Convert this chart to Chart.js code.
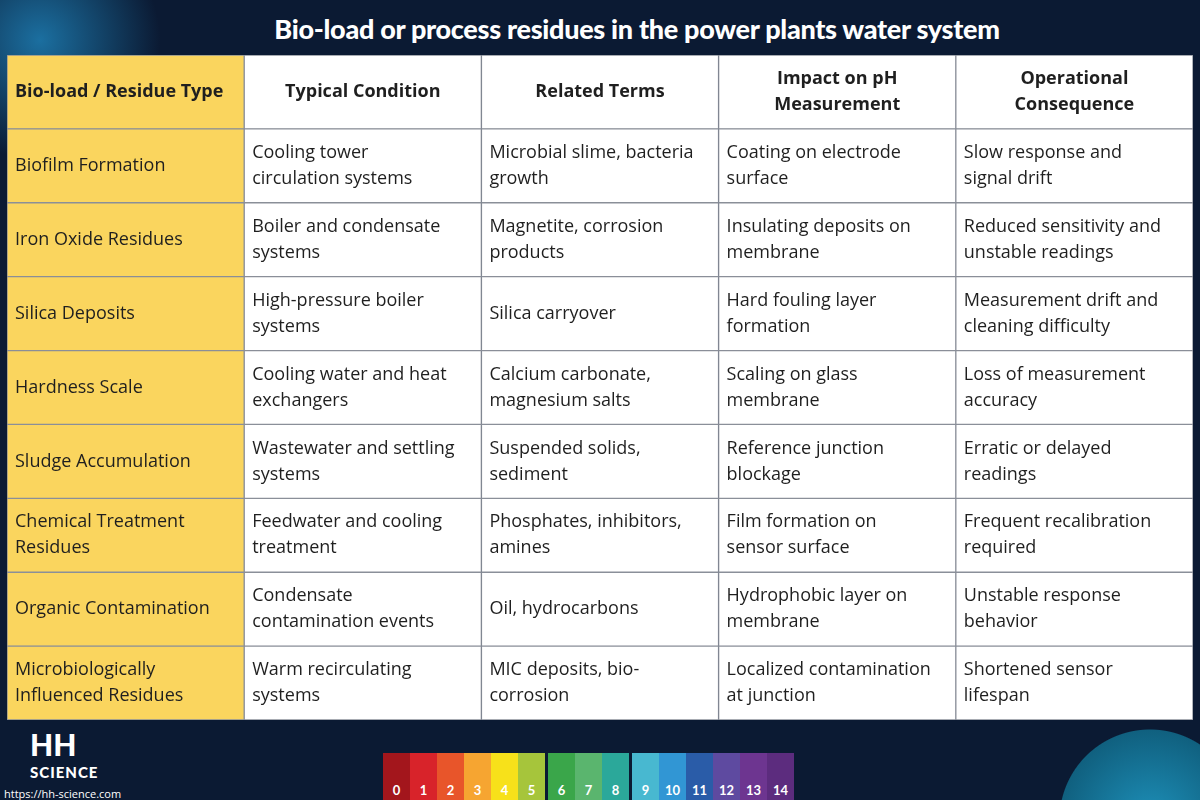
<!DOCTYPE html>
<html><head><meta charset="utf-8">
<script src="https://cdn.jsdelivr.net/npm/chart.js@4"></script>
<style>
body{margin:0;width:1200px;height:800px;overflow:hidden;font-family:"Open Sans",sans-serif;
background:radial-gradient(circle at 1150px 820px,#1d8fb8 0,#10607f 90px,transparent 91px),
radial-gradient(circle at 40px 40px,#1b6fa0 0,transparent 120px),#0b1a33;position:relative}
#title{position:absolute;top:12px;left:0;width:1274px;text-align:center;color:#fff;font:900 27px Lato,sans-serif;letter-spacing:-0.3px}
#wrap{position:absolute;left:7px;top:55px;width:1186px;height:665px}
#logo{position:absolute;left:30px;top:730px;color:#fff;font:900 30px Lato;line-height:28px}
#logo small{display:block;font-size:15px;letter-spacing:1px}
#url{position:absolute;left:4px;top:786px;color:#fff;font:11px "Open Sans"}
#ph{position:absolute;left:383px;top:753px;display:flex}
#ph div{width:27px;height:47px;color:#fff;font:700 13px Lato;display:flex;align-items:flex-end;justify-content:center;padding-bottom:2px;box-sizing:border-box}
</style></head><body>
<div id="title">Bio-load or process residues in the power plants water system</div>
<div id="wrap"><canvas id="c"></canvas></div>
<div id="logo">HH<small>SCIENCE</small></div>
<div id="url">https://hh-science.com</div>
<div id="ph"></div>
<script>
const columns = ["Bio-load / Residue Type", "Typical Condition", "Related Terms", "Impact on pH\nMeasurement", "Operational\nConsequence"];
const residueTypes = ["Biofilm Formation", "Iron Oxide Residues", "Silica Deposits", "Hardness Scale", "Sludge Accumulation",
  "Chemical Treatment\nResidues", "Organic Contamination", "Microbiologically\nInfluenced Residues"];
const conditions = ["Cooling tower\ncirculation systems", "Boiler and condensate\nsystems", "High-pressure boiler\nsystems",
  "Cooling water and heat\nexchangers", "Wastewater and settling\nsystems", "Feedwater and cooling\ntreatment",
  "Condensate\ncontamination events", "Warm recirculating\nsystems"];
const relatedTerms = ["Microbial slime, bacteria\ngrowth", "Magnetite, corrosion\nproducts", "Silica carryover",
  "Calcium carbonate,\nmagnesium salts", "Suspended solids,\nsediment", "Phosphates, inhibitors,\namines",
  "Oil, hydrocarbons", "MIC deposits, bio-\ncorrosion"];
const phImpacts = ["Coating on electrode\nsurface", "Insulating deposits on\nmembrane", "Hard fouling layer\nformation",
  "Scaling on glass\nmembrane", "Reference junction\nblockage", "Film formation on\nsensor surface",
  "Hydrophobic layer on\nmembrane", "Localized contamination\nat junction"];
const consequences = ["Slow response and\nsignal drift", "Reduced sensitivity and\nunstable readings",
  "Measurement drift and\ncleaning difficulty", "Loss of measurement\naccuracy", "Erratic or delayed\nreadings",
  "Frequent recalibration\nrequired", "Unstable response\nbehavior", "Shortened sensor\nlifespan"];
const phLevels = [0,1,2,3,4,5,6,7,8,9,10,11,12,13,14];
const phColors = ["#a3161c","#d8232a","#e8552a","#f6a531","#f7e11a","#a6c53b","#3aa64a","#5ab56e","#2ba89a","#48b8d0","#3196d4","#2a5ca8","#5e4aa0","#6d3590","#5c2c7e"];

const ph = document.getElementById("ph");
phLevels.forEach((v, i) => {
  const d = document.createElement("div");
  d.style.background = phColors[i]; d.textContent = v;
  if (i === 5 || i === 8) d.style.marginRight = "3px";
  ph.appendChild(d);
});

const tableCols = [residueTypes, conditions, relatedTerms, phImpacts, consequences];
const rowLabels = ["header"].concat(residueTypes);

const datasets = tableCols.map((col, c) => ({
  label: columns[c],
  data: rowLabels.map(() => [c, c + 1]),
  texts: [columns[c]].concat(col),
  backgroundColor: c === 0 ? "#fad55e" : "#ffffff",
  borderColor: "#8a8f99",
  borderWidth: 1,
  borderSkipped: false,
  grouped: false,
  barPercentage: 1,
  categoryPercentage: 1
}));

const cellText = {
  id: "cellText",
  afterDatasetsDraw(chart) {
    const ctx = chart.ctx;
    chart.data.datasets.forEach((ds, c) => {
      chart.getDatasetMeta(c).data.forEach((bar, r) => {
        const lines = ds.texts[r].split("\n");
        const left = Math.min(bar.x, bar.base), right = Math.max(bar.x, bar.base);
        ctx.save();
        ctx.fillStyle = "#1f1f1f";
        ctx.textBaseline = "middle";
        const header = r === 0;
        ctx.font = (header ? "700 " : "400 ") + "18px 'Open Sans'";
        const lh = 26;
        const y0 = bar.y - (lines.length - 1) * lh / 2;
        lines.forEach((t, i) => {
          if (header && c > 0) {
            ctx.textAlign = "center";
            ctx.fillText(t, (left + right) / 2, y0 + i * lh);
          } else {
            ctx.textAlign = "left";
            ctx.fillText(t, left + 8, y0 + i * lh);
          }
        });
        ctx.restore();
      });
    });
  }
};

new Chart(document.getElementById("c"), {
  type: "bar",
  data: { labels: rowLabels, datasets },
  options: {
    indexAxis: "y",
    responsive: true,
    maintainAspectRatio: false,
    animation: false,
    layout: { padding: 0 },
    plugins: { legend: { display: false }, tooltip: { enabled: false } },
    scales: {
      x: { type: "linear", min: 0, max: 5, display: false },
      y: { display: false }
    }
  },
  plugins: [cellText]
});
</script>
</body></html>
